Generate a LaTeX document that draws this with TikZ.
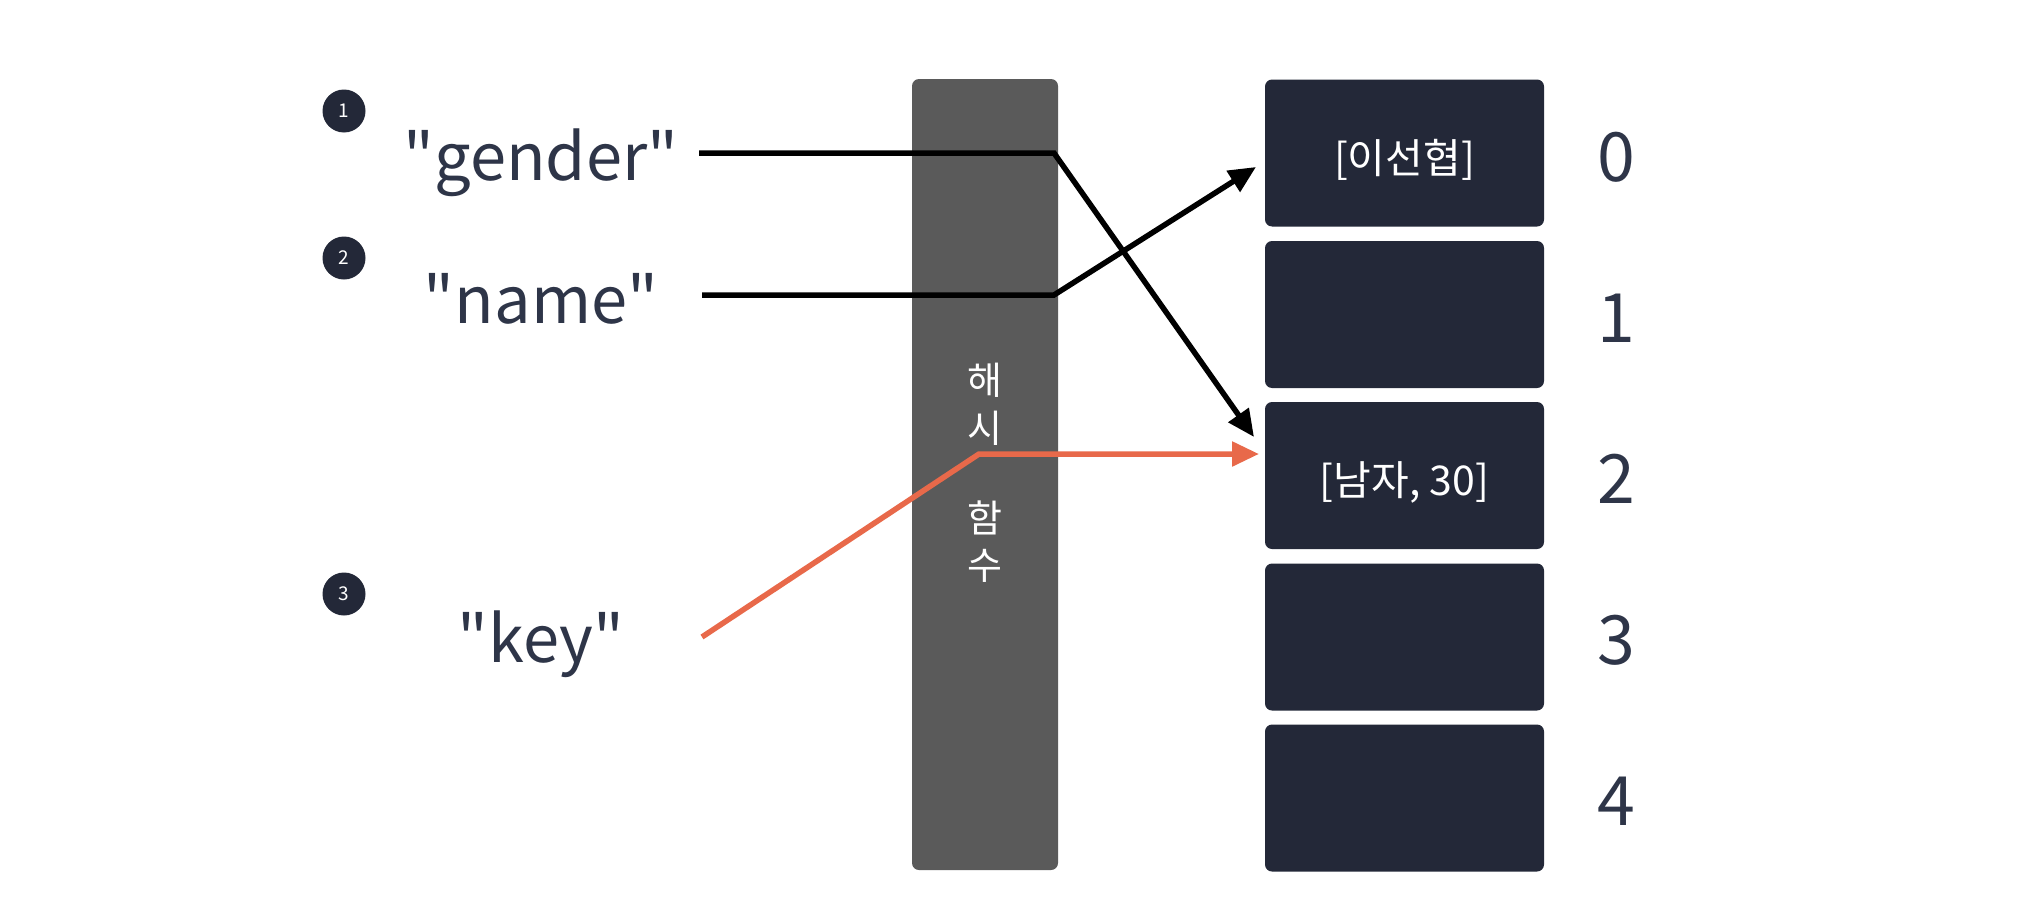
\documentclass[tikz,border=0pt]{standalone}
\usepackage{fontspec}
\setmainfont{Noto Sans CJK KR}[Ligatures=TeXOff]
\usetikzlibrary{arrows.meta}
\definecolor{boxc}{HTML}{232838}
\definecolor{txtc}{HTML}{2E3548}
\definecolor{barc}{HTML}{5A5A5A}
\definecolor{orgc}{HTML}{E8694A}
\begin{document}
\begin{tikzpicture}[x=1pt,y=-1pt,
  slot/.style={fill=boxc, rounded corners=7pt, minimum width=279pt, minimum height=147pt, inner sep=0pt},
  slottxt/.style={text=white, inner sep=0pt, font=\fontsize{41}{48}\selectfont},
  bar/.style={fill=barc, rounded corners=7pt, minimum width=146pt, minimum height=791pt, inner sep=0pt},
  badge/.style={circle, fill=boxc, minimum size=43pt, inner sep=0pt, text=white, font=\fontsize{19}{22}\selectfont},
  keytxt/.style={anchor=base, text=txtc, inner sep=0pt, font=\fontsize{65}{78}\selectfont},
  idx/.style={anchor=base, text=txtc, inner sep=0pt, font=\fontsize{68}{80}\selectfont},
  hashtxt/.style={text=white, inner sep=0pt, font=\fontsize{38}{44}\selectfont},
  link/.style={line width=5.5pt, -{Triangle[length=27pt,width=24pt]}},
]
\useasboundingbox (0,0) rectangle (2030,910);
\fill[white] (0,0) rectangle (2030,910);

% hash function bar
\node[bar] (hash) at (985,474.5) {};
\node[hashtxt] (h1) at (985,380) {해};
\node[hashtxt] (h2) at (985,428) {시};
\node[hashtxt] (h3) at (985,518) {함};
\node[hashtxt] (h4) at (985,566) {수};

% slots
\node[slot] (s0) at (1404.5,153) {};
\node[slot] (s1) at (1404.5,314.5) {};
\node[slot] (s2) at (1404.5,475.5) {};
\node[slot] (s3) at (1404.5,637) {};
\node[slot] (s4) at (1404.5,798) {};
\node[slottxt] (v0) at (1404.5,160) {[이선협]};
\node[slottxt] (v2) at (1404.5,482) {[남자, 30]};

% indices
\node[idx] (i0) at (1616,181) {0};
\node[idx] (i1) at (1616,342) {1};
\node[idx] (i2) at (1616,503) {2};
\node[idx] (i3) at (1616,664) {3};
\node[idx] (i4) at (1616,825) {4};

% badges
\node[badge] (b1) at (344,111) {1};
\node[badge] (b2) at (344,258) {2};
\node[badge] (b3) at (344,594) {3};

% keys
\node[keytxt] (kg) at (541,180) {"gender"};
\node[keytxt] (kn) at (541,323) {"name"};
\node[keytxt] (kk) at (541,662) {"key"};

% connector points
\coordinate (g0) at (699,153);
\coordinate (g1) at (1054,153);
\coordinate (g2) at (1254,437);
\coordinate (n0) at (702,295);
\coordinate (n1) at (1054,295);
\coordinate (n2) at (1256,167);
\coordinate (k0) at (702,637);
\coordinate (k1) at (979,454);
\coordinate (k2) at (1259,454);

\draw[link] (g0) -- (g1) -- (g2);
\draw[link] (n0) -- (n1) -- (n2);
\draw[link, draw=orgc] (k0) -- (k1) -- (k2);
\end{tikzpicture}
\end{document}
